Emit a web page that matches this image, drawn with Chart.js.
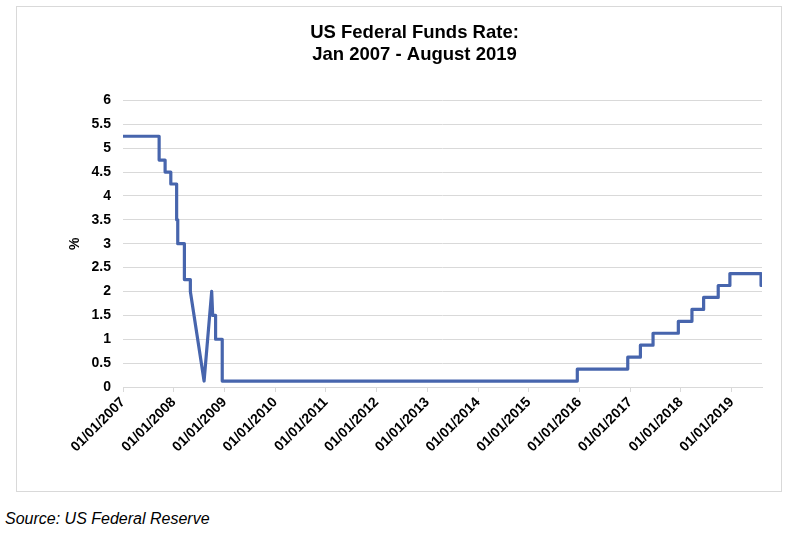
<!DOCTYPE html>
<html>
<head>
<meta charset="utf-8">
<script src="https://cdn.jsdelivr.net/npm/chart.js@4.4.0/dist/chart.umd.min.js"></script>
<style>
  body { margin: 0; background: #fff; }
  #box { position: absolute; left: 16px; top: 6px; width: 764px; height: 484px; border: 1px solid #d9d9d9; }
  #source { position: absolute; left: 5px; top: 510px; font: italic 16px "Liberation Sans", Arial, sans-serif; color: #000; }
</style>
</head>
<body>
<div id="box"><canvas id="lineChart" width="764" height="484"></canvas></div>
<div id="source">Source: US Federal Reserve</div>
<script>
// dates and rates (two entries per step change)
var rateDates = [
  "2007-01-01", "2007-09-18", "2007-09-18", "2007-10-31", "2007-10-31",
  "2007-12-11", "2007-12-11", "2008-01-22", "2008-01-22", "2008-01-30",
  "2008-01-30", "2008-03-18", "2008-03-18", "2008-04-30", "2008-04-30",
  "2008-08-07", "2008-10-01", "2008-10-08", "2008-10-29", "2008-10-29",
  "2008-12-16", "2008-12-16", "2015-12-16", "2015-12-16", "2016-12-14",
  "2016-12-14", "2017-03-15", "2017-03-15", "2017-06-14", "2017-06-14",
  "2017-12-13", "2017-12-13", "2018-03-21", "2018-03-21", "2018-06-13",
  "2018-06-13", "2018-09-26", "2018-09-26", "2018-12-19", "2018-12-19",
  "2019-07-31", "2019-07-31", "2019-08-07"
];
var rateValues = [
  5.25, 5.25, 4.75, 4.75, 4.5,
  4.5, 4.25, 4.25, 3.5, 3.5,
  3.0, 3.0, 2.25, 2.25, 2.0,
  0.125, 2.0, 1.5, 1.5, 1.0,
  1.0, 0.125, 0.125, 0.375, 0.375,
  0.625, 0.625, 0.875, 0.875, 1.125,
  1.125, 1.375, 1.375, 1.625, 1.625,
  1.875, 1.875, 2.125, 2.125, 2.375,
  2.375, 2.125, 2.125
];
var tickYears = [2007, 2008, 2009, 2010, 2011, 2012, 2013, 2014, 2015, 2016, 2017, 2018, 2019];

function toYear(s) {
  var d = new Date(s + "T00:00:00Z");
  var y = d.getUTCFullYear();
  var start = Date.UTC(y, 0, 1), end = Date.UTC(y + 1, 0, 1);
  return y + (d.getTime() - start) / (end - start);
}

var points = rateDates.map(function (s, i) {
  return { x: toYear(s), y: rateValues[i] };
});

var font = "'Liberation Sans', Arial, sans-serif";

var ctx = document.getElementById("lineChart").getContext("2d");
new Chart(ctx, {
  type: "line",
  data: {
    datasets: [{
      data: points,
      borderColor: "#4765AD",
      borderWidth: 3.2,
      borderJoinStyle: "round",
      borderCapStyle: "butt",
      pointRadius: 0,
      tension: 0,
      fill: false
    }]
  },
  options: {
    responsive: false,
    animation: false,
    layout: { padding: { left: 50, right: 19, top: 0, bottom: 0 } },
    plugins: {
      legend: { display: false },
      tooltip: { enabled: false },
      title: {
        display: true,
        text: ["US Federal Funds Rate:", "Jan 2007 - August 2019"],
        color: "#000",
        font: { family: font, size: 18.5, weight: "bold", lineHeight: 1.2 },
        padding: { top: 15, bottom: 34 }
      }
    },
    scales: {
      x: {
        type: "linear",
        min: toYear("2007-01-01"),
        max: toYear("2019-08-07"),
        afterBuildTicks: function (scale) {
          scale.ticks = tickYears.map(function (v) { return { value: v }; });
        },
        afterFit: function (scale) { scale.height = 104; },
        grid: { drawOnChartArea: false, drawTicks: true, tickLength: 5, color: "#d9d9d9" },
        border: { display: true, color: "#d9d9d9", width: 1 },
        ticks: {
          autoSkip: false,
          minRotation: 45,
          maxRotation: 45,
          color: "#000",
          padding: 2,
          font: { family: font, size: 14, weight: "bold" },
          callback: function (v) { return "01/01/" + v; }
        }
      },
      y: {
        min: 0,
        max: 6,
        afterFit: function (scale) { scale.width = 56; },
        grid: { color: "#d9d9d9", drawTicks: false },
        border: { display: false },
        ticks: {
          stepSize: 0.5,
          color: "#000",
          padding: 12,
          font: { family: font, size: 14, weight: "bold" },
          callback: function (v) { return String(v); }
        },
        title: {
          display: true,
          text: "%",
          color: "#000",
          padding: 0,
          font: { family: font, size: 14, weight: "bold", lineHeight: 1.2 }
        }
      }
    }
  }
});
</script>
</body>
</html>
